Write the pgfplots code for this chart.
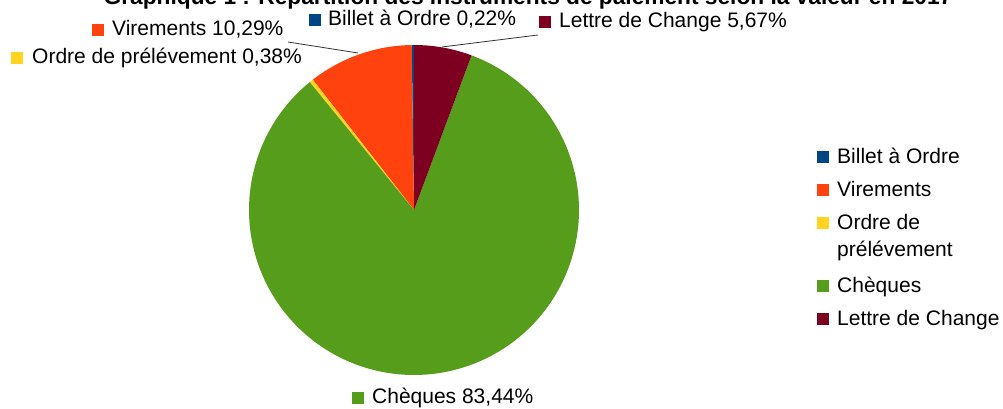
\documentclass[border=0pt]{standalone}
\usepackage{fontspec}
\setmainfont{Liberation Sans}
\usepackage{pgfplots}
\pgfplotsset{compat=1.18}
\definecolor{cB}{HTML}{004586}
\definecolor{cV}{HTML}{FF420E}
\definecolor{cO}{HTML}{FFD320}
\definecolor{cC}{HTML}{579D1C}
\definecolor{cL}{HTML}{7E0021}
% shares (%)
\def\vB{0.22}\def\vV{10.29}\def\vO{0.38}\def\vC{83.44}\def\vL{5.67}
\newcommand\sd{\rule[-5pt]{0pt}{5pt}}
\begin{document}
\fontsize{21}{27}\selectfont
\begin{tikzpicture}
\pgfmathsetmacro\aA{90}
\pgfmathsetmacro\aB{\aA+3.6*\vB}
\pgfmathsetmacro\aC{\aB+3.6*\vV}
\pgfmathsetmacro\aD{\aC+3.6*\vO}
\pgfmathsetmacro\aE{\aD+3.6*\vC}
\pgfmathsetmacro\aF{\aE+3.6*\vL}
\useasboundingbox (0,0) rectangle (1003pt,409pt);
\clip (0,0) rectangle (1003pt,409pt);
\begin{axis}[at={(0,0)}, anchor=south west, scale only axis,
  width=1003pt, height=409pt, xmin=0, xmax=1003, ymin=0, ymax=409,
  hide axis, clip=false,
  legend image code/.code={\fill[#1] (0pt,0pt) rectangle (12pt,12pt); \path (20pt,0pt);},
  legend style={at={(axis cs:817,261)}, anchor=north west, draw=none, fill=none,
    inner sep=0pt, column sep=0pt, row sep=13pt,
    cells={anchor=base west}, nodes={inner sep=0pt, text height=15pt, text depth=}},
  ]
\addplot[fill=cB, draw=none, domain=\aA:\aB, samples=5] ({414+165*cos(x)},{199+165*sin(x)}) -- (axis cs:414,199) -- cycle;
\addlegendentry{Billet à Ordre\sd}
\addplot[fill=cV, draw=none, domain=\aB:\aC, samples=40] ({414+165*cos(x)},{199+165*sin(x)}) -- (axis cs:414,199) -- cycle;
\addlegendentry{Virements\sd}
\addplot[fill=cO, draw=none, domain=\aC:\aD, samples=5] ({414+165*cos(x)},{199+165*sin(x)}) -- (axis cs:414,199) -- cycle;
\addlegendentry{\parbox[t]{6cm}{Ordre de\\prélévement\rule[-8pt]{0pt}{8pt}}}
\addplot[fill=cC, draw=none, domain=\aD:\aE, samples=200] ({414+165*cos(x)},{199+165*sin(x)}) -- (axis cs:414,199) -- cycle;
\addlegendentry{Chèques\sd}
\addplot[fill=cL, draw=none, domain=\aE:\aF, samples=30] ({414+165*cos(x)},{199+165*sin(x)}) -- (axis cs:414,199) -- cycle;
\addlegendentry{Lettre de Change\sd}

\node[anchor=base, font=\fontsize{22.7}{27}\selectfont\bfseries] at (axis cs:528,404) {Graphique 1 : Répartition des instruments de paiement selon la valeur en 2017};

\draw[black!80, line width=0.8pt] (axis cs:288,367) -- (axis cs:358,356);
\draw[black!80, line width=0.8pt] (axis cs:538,374) -- (axis cs:442,362);

\node[anchor=base west, inner sep=0pt] at (axis cs:309,383) {\textcolor{cB}{\rule{12pt}{12pt}}\hspace{7pt}Billet à Ordre 0,22\%};
\node[anchor=base west, inner sep=0pt] at (axis cs:92,373) {\textcolor{cV}{\rule{12pt}{12pt}}\hspace{8pt}Virements 10,29\%};
\node[anchor=base west, inner sep=0pt] at (axis cs:539,381) {\textcolor{cL}{\rule{12pt}{12pt}}\hspace{8pt}Lettre de Change 5,67\%};
\node[anchor=base west, inner sep=0pt] at (axis cs:11,345) {\textcolor{cO}{\rule{12pt}{12pt}}\hspace{9pt}Ordre de prélévement 0,38\%};
\node[anchor=base west, inner sep=0pt] at (axis cs:352,5) {\textcolor{cC}{\rule{12pt}{12pt}}\hspace{8pt}Chèques 83,44\%};
\end{axis}
\end{tikzpicture}
\end{document}
